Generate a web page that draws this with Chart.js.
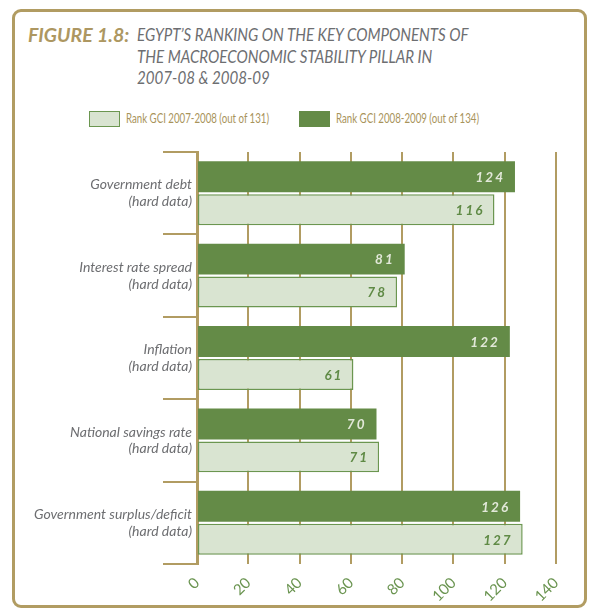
<!DOCTYPE html>
<html>
<head>
<meta charset="utf-8">
<script src="https://cdn.jsdelivr.net/npm/chart.js@4.4.1/dist/chart.umd.min.js"></script>
<style>
  html, body { margin: 0; padding: 0; background: #fff; }
  #page { position: relative; width: 596px; height: 608px; overflow: hidden; background: #fff; }
  #frame { position: absolute; left: 12px; top: 9px; width: 575px; height: 599px;
           border: 3px solid #b19c62; border-radius: 9px; box-sizing: border-box; }
  #fig { position: absolute; left: 28px; top: 24px; font: italic 700 19.5px Lato, sans-serif;
         color: #ad9761; line-height: 21.5px; white-space: nowrap; }
  #ttl { position: absolute; left: 137px; top: 24px; font: italic 400 18px Lato, sans-serif;
         color: #6d6e71; line-height: 21.5px; white-space: nowrap;
         transform: scaleX(0.84); transform-origin: left top; }
  #legend { position: absolute; left: 89px; top: 110px; display: flex; align-items: flex-start; }
  .item { display: flex; align-items: flex-start; margin-right: 29px; }
  .swatch { width: 31px; height: 16px; box-sizing: border-box; margin-top: 1px; margin-right: 6px; }
  .label { width: 144px; height: 16px; overflow: visible; white-space: nowrap;
           font: 400 13px Lato, sans-serif; line-height: 16px; color: #a8935a; }
  .label span { display: inline-block; transform: scaleX(0.745); transform-origin: left top; }
  #wrap { position: absolute; left: 13px; top: 140px; width: 546px; height: 468px; }
</style>
</head>
<body>
<div id="page">
  <div id="frame"></div>
  <div id="fig">FIGURE 1.8:</div>
  <div id="ttl">EGYPT’S RANKING ON THE KEY COMPONENTS OF<br>THE MACROECONOMIC STABILITY PILLAR IN<br>2007-08 &amp; 2008-09</div>
  <div id="legend"></div>
  <div id="wrap"><canvas id="c" width="546" height="468"></canvas></div>
</div>
<script>
// Pillar components (two-line axis labels)
const categories = [
  ['Government debt', '(hard data)'],
  ['Interest rate spread', '(hard data)'],
  ['Inflation', '(hard data)'],
  ['National savings rate', '(hard data)'],
  ['Government surplus/deficit', '(hard data)']
];
// Egypt's rank in each edition of the Global Competitiveness Index
const rank2007 = [116, 78, 61, 71, 127];
const rank2008 = [124, 81, 122, 70, 126];
const seriesNames = ['Rank GCI 2007-2008 (out of 131)', 'Rank GCI 2008-2009 (out of 134)'];
const xTicks = [0, 20, 40, 60, 80, 100, 120, 140];

const GOLD = '#b19c62';
const DARK = '#648b47';
const LIGHT = '#d9e4d1';
const LIGHT_EDGE = '#6b9650';

// rank printed inside the end of each bar
const valueLabels = {
  id: 'valueLabels',
  afterDatasetsDraw(chart) {
    const ctx = chart.ctx;
    chart.data.datasets.forEach((ds, i) => {
      const meta = chart.getDatasetMeta(i);
      meta.data.forEach((bar, j) => {
        ctx.save();
        ctx.font = 'italic 700 13.5px Lato, sans-serif';
        ctx.letterSpacing = '2px';
        ctx.fillStyle = ds.valueColor;
        ctx.textAlign = 'right';
        ctx.textBaseline = 'middle';
        ctx.fillText(String(ds.data[j]), bar.x - 10, bar.y + 1);
        ctx.restore();
      });
    });
  }
};

const chart = new Chart(document.getElementById('c'), {
  type: 'bar',
  data: {
    labels: categories,
    datasets: [
      {
        label: seriesNames[1],
        data: rank2008,
        backgroundColor: DARK,
        borderWidth: 0,
        valueColor: '#e2e8d9',
        categoryPercentage: 0.8,
        barPercentage: 0.94
      },
      {
        label: seriesNames[0],
        data: rank2007,
        backgroundColor: LIGHT,
        borderColor: LIGHT_EDGE,
        borderWidth: 1.5,
        borderSkipped: false,
        valueColor: '#5f8a45',
        categoryPercentage: 0.8,
        barPercentage: 0.94
      }
    ]
  },
  options: {
    indexAxis: 'y',
    responsive: false,
    animation: false,
    layout: { padding: { top: 12, left: 0, right: 3, bottom: 0 } },
    plugins: {
      legend: { display: false },
      tooltip: { enabled: false }
    },
    scales: {
      x: {
        type: 'linear',
        min: 0,
        max: 140,
        afterBuildTicks(scale) { scale.ticks = xTicks.map(v => ({ value: v })); },
        afterFit(scale) { scale.height = 44; scale.paddingLeft = 0; scale.paddingRight = 0; },
        grid: { color: GOLD, lineWidth: 2, drawTicks: false },
        border: { display: false },
        ticks: {
          minRotation: 45,
          maxRotation: 45,
          padding: 10,
          color: '#6a9450',
          font: { family: 'Lato, sans-serif', size: 15 }
        }
      },
      y: {
        afterFit(scale) { scale.width = 184; },
        grid: { drawOnChartArea: false, drawTicks: true, tickLength: 34, color: GOLD, lineWidth: 2 },
        border: { display: true, color: GOLD, width: 3 },
        ticks: {
          padding: -29,
          color: '#6d6e71',
          font: { family: 'Lato, sans-serif', size: 14, style: 'italic', lineHeight: 1.2 }
        }
      }
    }
  },
  plugins: [valueLabels]
});

// legend row built from the datasets (older edition first)
const legendEl = document.getElementById('legend');
chart.data.datasets.slice().reverse().forEach(ds => {
  const item = document.createElement('div');
  item.className = 'item';
  const sw = document.createElement('div');
  sw.className = 'swatch';
  sw.style.background = ds.backgroundColor;
  if (ds.borderWidth) sw.style.border = ds.borderWidth + 'px solid ' + ds.borderColor;
  const lab = document.createElement('div');
  lab.className = 'label';
  const txt = document.createElement('span');
  txt.textContent = ds.label;
  lab.appendChild(txt);
  item.appendChild(sw);
  item.appendChild(lab);
  legendEl.appendChild(item);
});
</script>
</body>
</html>
